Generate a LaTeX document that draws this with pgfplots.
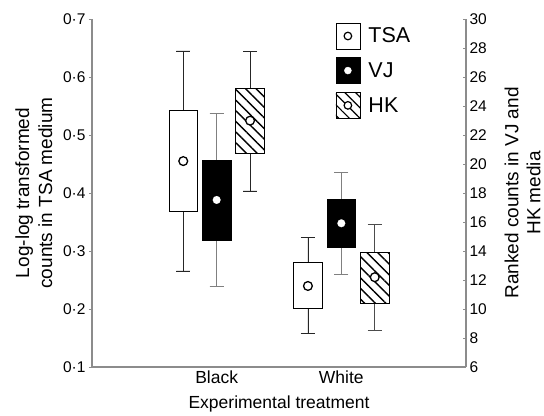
\documentclass[border=0pt]{standalone}
\usepackage{fontspec}
\setmainfont{Liberation Sans}
\usepackage{pgfplots}
\pgfplotsset{compat=1.18}
\usepgfplotslibrary{statistics}
\usetikzlibrary{patterns.meta}

\definecolor{axgray}{gray}{0.55}
\tikzset{hatch/.style={pattern={Lines[angle=-45,distance=7.5pt,line width=1.4pt]}}}

\pgfplotsset{
  common/.style={
    width=374pt, height=348pt, scale only axis,
    xmin=0, xmax=3,
    axis line style={axgray, line width=1.2pt},
    tick style={axgray, line width=0.8pt},
    major tick length=3pt,
    yticklabel style={font=\fontsize{15.5}{17}\selectfont},
    /pgf/number format/assume math mode=true,
    boxplot/draw direction=y,
    boxplot/box extend=0.229,
    boxplot/whisker extend=0.112,
    boxplot/draw/median/.code={},
  },
  % the average mark takes the plot's own draw, fill and line width
  openmark/.style={forget plot, draw=black, fill=white, line width=1.3pt,
    boxplot/every average/.style={/tikz/mark=*, /tikz/mark size=4.4pt}},
  dotmark/.style={forget plot, draw=white, fill=white, line width=0.1pt,
    boxplot/every average/.style={/tikz/mark=*, /tikz/mark size=3.9pt}},
}

\begin{document}
\begin{tikzpicture}
% left axis: TSA medium, log-log transformed counts
\begin{axis}[common, name=main,
  axis x line*=bottom, axis y line*=left,
  ymin=0.1, ymax=0.7,
  ytick={0.1,0.2,0.3,0.4,0.5,0.6,0.7},
  yticklabels={0·1,0·2,0·3,0·4,0·5,0·6,0·7},
  xtick={1,2}, xticklabels={Black,White},
  xticklabel style={font=\fontsize{17.5}{20}\selectfont, yshift=3pt},
  tick align=outside,
  xtick style={draw=none},
  xlabel={Experimental treatment},
  xlabel style={font=\fontsize{17.5}{20}\selectfont, yshift=-6pt},
  ylabel={Log-log transformed\\counts in TSA medium},
  ylabel style={align=center, font=\fontsize{19}{23}\selectfont,
    at={(ticklabel cs:0.5,4pt)}},
]
\addplot[openmark,
  boxplot/every box/.style={draw=black, line width=0.7pt},
  boxplot/every whisker/.style={black!85, line width=0.7pt},
  boxplot prepared={lower whisker=0.2655, lower quartile=0.368, median=0.455,
    upper quartile=0.543, upper whisker=0.645, average=0.455, draw position=0.732}]
  coordinates {};
\addplot[openmark,
  boxplot/every box/.style={draw=black, line width=0.7pt},
  boxplot/every whisker/.style={black!85, line width=0.7pt},
  boxplot prepared={lower whisker=0.158, lower quartile=0.201, median=0.2397,
    upper quartile=0.2805, upper whisker=0.323, average=0.2397, draw position=1.732}]
  coordinates {};
\end{axis}
% right axis: ranked counts in VJ and HK media
\begin{axis}[common,
  axis x line=none, axis y line*=right,
  ymin=6, ymax=30,
  ytick={6,8,...,30},
  tick align=inside,
  ylabel={Ranked counts in VJ and\\HK media},
  ylabel style={align=center, font=\fontsize{19}{22}\selectfont,
    at={(ticklabel cs:0.5,11pt)}},
  legend style={at={(rel axis cs:0.65,0.99)}, anchor=north west, draw=none, fill=none,
    font=\fontsize{21.5}{24}\selectfont, row sep=8pt, inner sep=0pt,
    /tikz/every odd column/.append style={column sep=6pt}},
  legend cell align=left,
]
\addplot[dotmark,
  boxplot/every box/.style={draw=black, fill=black, line width=0.7pt},
  boxplot/every whisker/.style={gray, line width=0.7pt},
  boxplot prepared={lower whisker=11.54, lower quartile=14.76, median=17.52,
    upper quartile=20.28, upper whisker=23.5, average=17.52, draw position=1}]
  coordinates {};
\addplot[dotmark,
  boxplot/every box/.style={draw=black, fill=black, line width=0.7pt},
  boxplot/every whisker/.style={gray, line width=0.7pt},
  boxplot prepared={lower whisker=12.41, lower quartile=14.23, median=15.91,
    upper quartile=17.59, upper whisker=19.4, average=15.91, draw position=2}]
  coordinates {};
\addplot[openmark,
  boxplot/every box/.style={draw=black, line width=0.7pt, hatch},
  boxplot/every whisker/.style={black!85, line width=0.7pt},
  boxplot prepared={lower whisker=18.14, lower quartile=20.74, median=22.99,
    upper quartile=25.22, upper whisker=27.79, average=22.99, draw position=1.268}]
  coordinates {};
\addplot[openmark,
  boxplot/every box/.style={draw=black, line width=0.7pt, hatch},
  boxplot/every whisker/.style={black!70, line width=0.7pt},
  boxplot prepared={lower whisker=8.5, lower quartile=10.39, median=12.19,
    upper quartile=13.91, upper whisker=15.84, average=12.19, draw position=2.268}]
  coordinates {};
\addlegendimage{legend image code/.code={
  \draw[black, line width=0.7pt, fill=white] (0pt,-13pt) rectangle (24pt,13pt);
  \draw[black, line width=1.2pt, fill=white] (12pt,0pt) circle (3.8pt);}}
\addlegendentry{TSA}
\addlegendimage{legend image code/.code={
  \fill[black] (0pt,-13pt) rectangle (24pt,13pt);
  \fill[white] (12pt,0pt) circle (3.5pt);}}
\addlegendentry{VJ}
\addlegendimage{legend image code/.code={
  \draw[black, line width=0.7pt, pattern={Lines[angle=-45,distance=7.5pt,line width=1.2pt]}]
    (0pt,-13pt) rectangle (24pt,13pt);
  \draw[black, line width=1.2pt, fill=white] (12pt,0pt) circle (3.8pt);}}
\addlegendentry{HK}
\end{axis}
\useasboundingbox ([shift={(-92pt,-48pt)}]main.south west) rectangle ([shift={(78pt,19pt)}]main.north east);
\end{tikzpicture}
\end{document}
